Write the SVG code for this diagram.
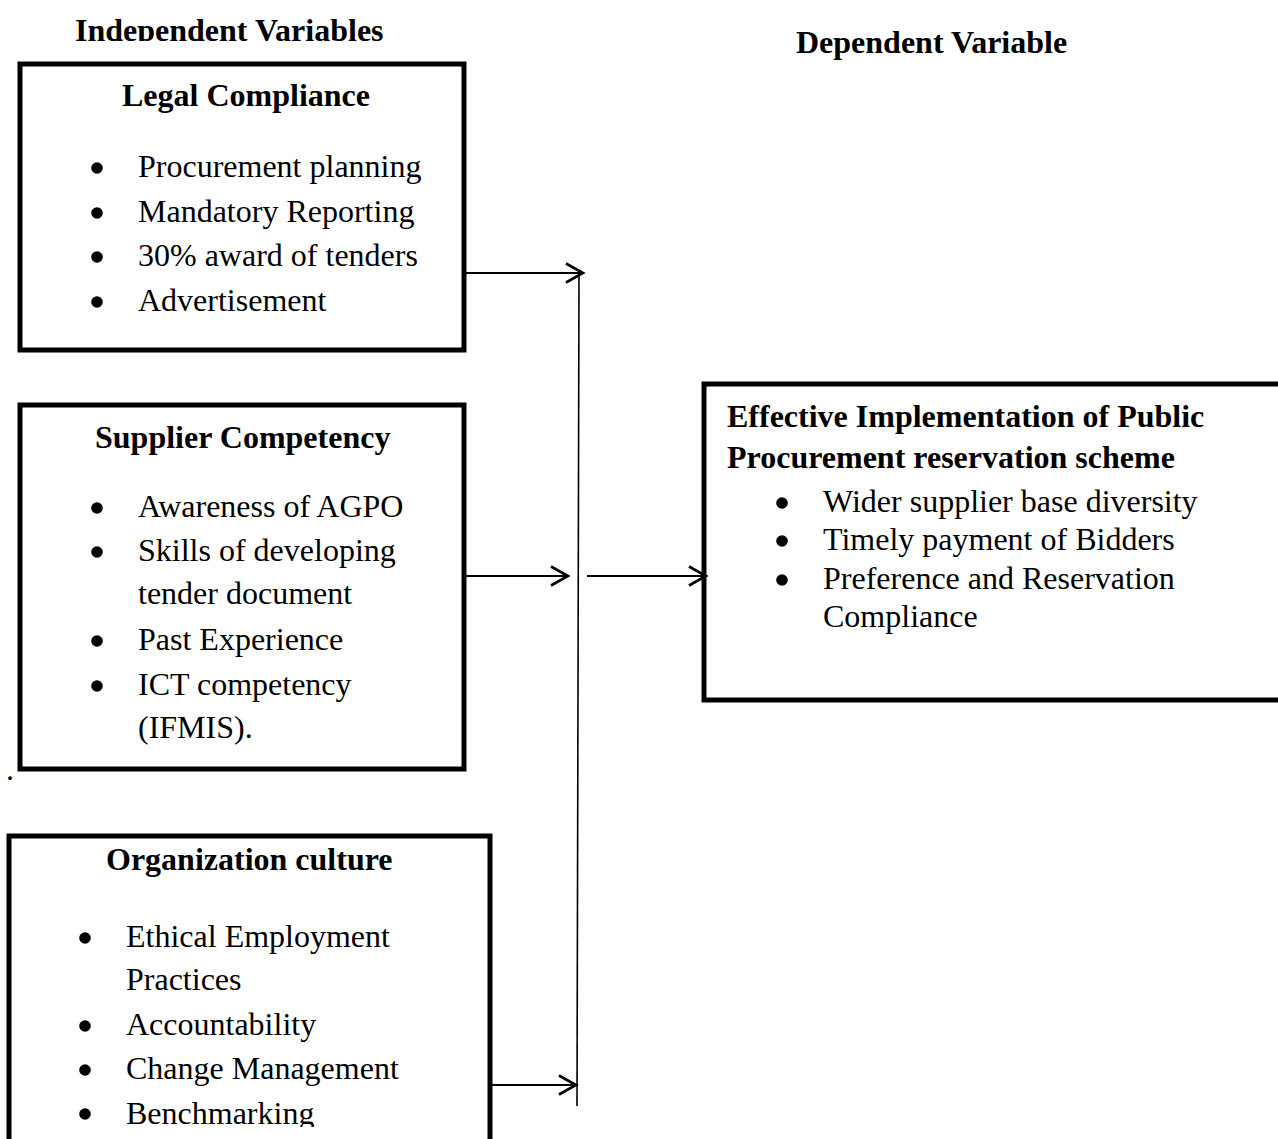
<svg xmlns="http://www.w3.org/2000/svg" width="1278" height="1139" viewBox="0 0 1278 1139">
<style>
.box{fill:#fff;stroke:#000;stroke-width:5}
.t{font-family:"Liberation Serif","Times New Roman",serif;font-size:32px;fill:#000}
.b{font-weight:bold}
.conn{stroke:#000;stroke-width:2.2;fill:none}
.vl{stroke:#000;stroke-width:1.6;fill:none}
.bul{fill:#000}
</style>
<defs>
<marker id="chev" markerUnits="userSpaceOnUse" markerWidth="24" markerHeight="24" refX="18" refY="10" orient="auto" overflow="visible">
<path d="M1,0.5 L18,10 L1,19.5" fill="none" stroke="#000" stroke-width="2.6"/>
</marker>
<clipPath id="clipTop"><rect x="0" y="0" width="640" height="41"/></clipPath>
<clipPath id="clipBot"><rect x="0" y="0" width="640" height="1127"/></clipPath>
</defs>
<rect width="1278" height="1139" fill="#fff"/>

<g id="header-independent">
<text class="t b" x="75" y="41" clip-path="url(#clipTop)">Independent Variables</text>
</g>
<g id="header-dependent">
<text class="t b" x="796" y="53">Dependent Variable</text>
</g>

<g id="legal-compliance">
<rect class="box" x="20" y="64" width="444" height="286"/>
<text class="t b" x="122" y="106">Legal Compliance</text>
<circle class="bul" cx="97" cy="168" r="5.8"/>
<circle class="bul" cx="97" cy="213" r="5.8"/>
<circle class="bul" cx="97" cy="257" r="5.8"/>
<circle class="bul" cx="97" cy="302" r="5.8"/>
<text class="t" x="138" y="177">Procurement planning</text>
<text class="t" x="138" y="222">Mandatory Reporting</text>
<text class="t" x="138" y="266">30% award of tenders</text>
<text class="t" x="138" y="311">Advertisement</text>
</g>

<g id="supplier-competency">
<rect class="box" x="20" y="405" width="444" height="364"/>
<text class="t b" x="95" y="448">Supplier Competency</text>
<circle class="bul" cx="97" cy="508" r="5.8"/>
<circle class="bul" cx="97" cy="552" r="5.8"/>
<circle class="bul" cx="97" cy="641" r="5.8"/>
<circle class="bul" cx="97" cy="686" r="5.8"/>
<text class="t" x="138" y="517">Awareness of AGPO</text>
<text class="t" x="138" y="561">Skills of developing</text>
<text class="t" x="138" y="604">tender document</text>
<text class="t" x="138" y="650">Past Experience</text>
<text class="t" x="138" y="695">ICT competency</text>
<text class="t" x="138" y="738">(IFMIS).</text>
</g>

<text class="t" x="6" y="780">.</text>

<g id="organization-culture">
<rect class="box" x="9" y="836" width="481" height="330"/>
<g clip-path="url(#clipBot)">
<text class="t b" x="106" y="870">Organization culture</text>
<circle class="bul" cx="85" cy="938" r="5.8"/>
<circle class="bul" cx="85" cy="1026" r="5.8"/>
<circle class="bul" cx="85" cy="1070" r="5.8"/>
<circle class="bul" cx="85" cy="1114" r="5.8"/>
<text class="t" x="126" y="947">Ethical Employment</text>
<text class="t" x="126" y="990">Practices</text>
<text class="t" x="126" y="1035">Accountability</text>
<text class="t" x="126" y="1079">Change Management</text>
<text class="t" x="126" y="1124">Benchmarking</text>
</g>
</g>

<g id="effective-implementation">
<rect class="box" x="704" y="384" width="600" height="316"/>
<text class="t b" x="727" y="427">Effective Implementation of Public</text>
<text class="t b" x="727" y="468">Procurement reservation scheme</text>
<circle class="bul" cx="782" cy="503" r="5.8"/>
<circle class="bul" cx="782" cy="541" r="5.8"/>
<circle class="bul" cx="782" cy="580" r="5.8"/>
<text class="t" x="823" y="512">Wider supplier base diversity</text>
<text class="t" x="823" y="550">Timely payment of Bidders</text>
<text class="t" x="823" y="589">Preference and Reservation</text>
<text class="t" x="823" y="627">Compliance</text>
</g>

<g id="connectors">
<line class="vl" x1="579" y1="274" x2="577" y2="1106"/>
<line class="conn" x1="466" y1="273" x2="583" y2="273" marker-end="url(#chev)"/>
<line class="conn" x1="466" y1="576" x2="568" y2="576" marker-end="url(#chev)"/>
<line class="conn" x1="587" y1="576" x2="706" y2="576" marker-end="url(#chev)"/>
<line class="conn" x1="492" y1="1085" x2="576" y2="1085" marker-end="url(#chev)"/>
</g>
</svg>
